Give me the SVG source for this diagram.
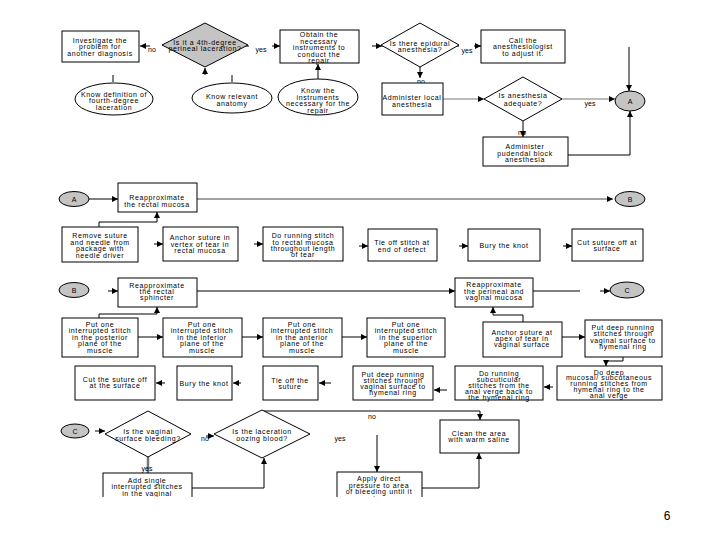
<svg xmlns="http://www.w3.org/2000/svg" width="720" height="540" viewBox="0 0 720 540">
<style>
.b{fill:#fff;stroke:#000;stroke-width:1}
.dg{fill:#c4c4c4;stroke:#000;stroke-width:1}
.dw{fill:#fff;stroke:#000;stroke-width:1}
.e{fill:#fff;stroke:#000;stroke-width:1}
.t{font-family:"Liberation Sans",Arial,sans-serif;font-size:7px;letter-spacing:0.6px;text-anchor:middle;dominant-baseline:central;fill:#000}
.l{font-family:"Liberation Sans",Arial,sans-serif;font-size:7px;text-anchor:middle;dominant-baseline:central;fill:#000}
.ln{stroke:#000;stroke-width:1;fill:none}
.g{stroke:#777;stroke-width:1;fill:none}
.m{marker-end:url(#ah)}
</style>
<defs>
<marker id="ah" markerWidth="6" markerHeight="6" refX="6" refY="3" orient="auto" markerUnits="userSpaceOnUse"><path d="M0,0 L6,3 L0,6 z" fill="#000"/></marker>
<clipPath id="cut"><rect x="0" y="0" width="720" height="497"/></clipPath>
</defs>
<rect width="720" height="540" fill="#fff"/>

<g id="connectors">
<line class="ln" x1="249" y1="46" x2="166" y2="46" stroke-width="1.5" marker-end="url(#ah)"/>
<line class="ln m" x1="150" y1="46" x2="140" y2="46"/>
<line class="ln m" x1="272" y1="46" x2="280" y2="46"/>
<line class="ln" x1="113" y1="75" x2="113" y2="82"/>
<line class="ln" x1="232" y1="75" x2="232" y2="82"/>
<line class="ln m" x1="205" y1="75" x2="205" y2="68"/>
<line class="ln m" x1="318" y1="80" x2="318" y2="64"/>
<line class="ln m" x1="372" y1="46" x2="382" y2="46"/>
<line class="ln" x1="382" y1="46" x2="459" y2="46"/>
<line class="ln m" x1="474" y1="46" x2="481" y2="46"/>
<line class="ln m" x1="420" y1="67" x2="420" y2="78"/>
<line class="ln m" x1="629" y1="47" x2="629" y2="91"/>
<line class="g m" x1="443" y1="99" x2="484" y2="99"/>
<line class="g" x1="484" y1="99" x2="562" y2="99"/>
<line class="g m" x1="562" y1="99" x2="615" y2="99"/>
<line class="ln m" x1="523" y1="121" x2="523" y2="137"/>
<polyline class="ln m" points="568,155 630,155 630,111"/>

<line class="ln m" x1="89" y1="199" x2="118" y2="199"/>
<line x1="197" y1="199" x2="613" y2="199" stroke="#444" stroke-width="1" marker-end="url(#ah)"/>
<polyline class="ln m" points="99,227 99,222 157,222 157,212"/>
<line class="ln m" x1="154" y1="244" x2="163" y2="244"/>
<line class="ln m" x1="254" y1="244" x2="263" y2="244"/>
<line class="ln m" x1="359" y1="246" x2="368" y2="246"/>
<line class="ln m" x1="459" y1="246" x2="468" y2="246"/>
<line class="ln m" x1="563" y1="246" x2="572" y2="246"/>

<line class="ln m" x1="108" y1="291" x2="118" y2="291"/>
<line class="ln m" x1="197" y1="291" x2="455" y2="291"/>
<line class="ln" x1="533" y1="291" x2="580" y2="291"/>
<line class="ln m" x1="600" y1="291" x2="610" y2="291"/>
<polyline class="ln m" points="99,318 99,314 157,314 157,307"/>
<line class="ln m" x1="138" y1="337" x2="163" y2="337"/>
<line class="ln m" x1="242" y1="337" x2="263" y2="337"/>
<line class="ln m" x1="342" y1="337" x2="367" y2="337"/>
<polyline class="ln m" points="523,322 523,315 493,315 493,307"/>
<line class="ln m" x1="562" y1="337" x2="585" y2="337"/>
<polyline class="ln m" points="623,357 623,361 606,361 606,366"/>

<line class="ln m" x1="165" y1="383" x2="156" y2="383"/>
<line class="ln m" x1="241" y1="383" x2="233" y2="383"/>
<line class="ln m" x1="331" y1="383" x2="319" y2="383"/>
<line class="ln m" x1="447" y1="390" x2="434" y2="390"/>
<line class="ln m" x1="553" y1="387" x2="544" y2="387"/>

<line class="ln m" x1="95" y1="431" x2="105" y2="431"/>
<line class="ln m" x1="206" y1="436" x2="214" y2="436"/>
<line x1="148" y1="457" x2="148" y2="473" stroke="#777" stroke-width="2.5"/>
<polyline class="ln m" points="192,488 264,488 264,458"/>
<polyline class="ln m" points="262,411 480,411 480,420"/>
<line class="ln m" x1="377" y1="435" x2="377" y2="472"/>
<polyline class="ln m" points="422,488 479,488 479,453"/>
</g>

<g id="n1"><rect class="b" x="62" y="31" width="77" height="31"/><text class="t" x="100" y="40">Investigate the</text><text class="t" x="100" y="46.5">problem for</text><text class="t" x="100" y="53">another diagnosis</text></g>
<g id="d1"><polygon class="dg" points="205,23 248,45 205,67 162,45"/><text class="t" x="205" y="42">Is it a 4th-degree</text><text class="t" x="205" y="48.5">perineal laceration?</text></g>
<text class="l" x="152" y="49">no</text>
<text class="l" x="261" y="49">yes</text>
<g id="n2"><rect class="b" x="280" y="30" width="79" height="33"/><text class="t" x="319" y="34.5">Obtain the</text><text class="t" x="319" y="41">necessary</text><text class="t" x="319" y="47.5">instruments to</text><text class="t" x="319" y="54">conduct the</text><text class="t" x="319" y="60.5">repair</text></g>
<g id="d2"><polygon class="dw" points="420,23 459,45 420,67 381,45"/><text class="t" x="420" y="43">Is there epidural</text><text class="t" x="420" y="49.5">anesthesia?</text></g>
<text class="l" x="467" y="50">yes</text>
<g id="n3"><rect class="b" x="481" y="30" width="84" height="33"/><text class="t" x="523" y="40">Call the</text><text class="t" x="523" y="46.5">anesthesiologist</text><text class="t" x="523" y="53">to adjust it.</text></g>
<g id="e1"><ellipse class="e" cx="114" cy="99" rx="39" ry="16"/><text class="t" x="114" y="94">Know definition of</text><text class="t" x="114" y="100.5">fourth-degree</text><text class="t" x="114" y="107">laceration</text></g>
<g id="e2"><ellipse class="e" cx="232" cy="98" rx="40" ry="15"/><text class="t" x="232" y="96.5">Know relevant</text><text class="t" x="232" y="103.5">anatomy</text></g>
<g id="e3"><ellipse class="e" cx="318" cy="97" rx="40" ry="18"/><text class="t" x="318" y="90.5">Know the</text><text class="t" x="318" y="97">instruments</text><text class="t" x="318" y="103.5">necessary for the</text><text class="t" x="318" y="110">repair</text></g>
<text class="l" x="421" y="81">no</text>
<g id="n4"><rect class="b" x="382" y="83" width="61" height="32"/><text class="t" x="412" y="97" letter-spacing="0.3">Administer local</text><text class="t" x="412" y="104">anesthesia</text></g>
<g id="d3"><polygon class="dw" points="523,77 562,99 523,121 484,99"/><text class="t" x="523" y="95.5">Is anesthesia</text><text class="t" x="523" y="103">adequate?</text></g>
<text class="l" x="590" y="103">yes</text>
<text class="l" x="522" y="132">no</text>
<g id="n5"><rect class="b" x="483" y="137" width="85" height="29"/><text class="t" x="525" y="146.5">Administer</text><text class="t" x="525" y="153">pudendal block</text><text class="t" x="525" y="159.5">anesthesia</text></g>
<g id="cA1"><ellipse class="dg" cx="630" cy="101" rx="15" ry="10"/><text class="l" x="630" y="101">A</text></g>

<g id="cA2"><ellipse class="dg" cx="74" cy="199" rx="15" ry="7.5"/><text class="l" x="74" y="199">A</text></g>
<g id="n6"><rect class="b" x="118" y="183" width="79" height="29"/><text class="t" x="157" y="197.5">Reapproximate</text><text class="t" x="157" y="204">the rectal mucosa</text></g>
<g id="cB1"><ellipse class="dg" cx="630" cy="199" rx="15" ry="7.5"/><text class="l" x="630" y="199">B</text></g>
<g id="n7"><rect class="b" x="62" y="227" width="76" height="35"/><text class="t" x="100" y="235.5">Remove suture</text><text class="t" x="100" y="242">and needle from</text><text class="t" x="100" y="248.5">package with</text><text class="t" x="100" y="255">needle driver</text></g>
<g id="n8"><rect class="b" x="163" y="227" width="75" height="34"/><text class="t" x="200" y="237.5">Anchor suture in</text><text class="t" x="200" y="244">vertex of tear in</text><text class="t" x="200" y="250.5">rectal mucosa</text></g>
<g id="n9"><rect class="b" x="263" y="227" width="80" height="34"/><text class="t" x="303" y="235.5">Do running stitch</text><text class="t" x="303" y="242">to rectal mucosa</text><text class="t" x="303" y="248">throughout length</text><text class="t" x="303" y="254">of tear</text></g>
<g id="n10"><rect class="b" x="368" y="229" width="69" height="32"/><text class="t" x="402" y="242.5">Tie off stitch at</text><text class="t" x="402" y="249">end of defect</text></g>
<g id="n11"><rect class="b" x="468" y="229" width="72" height="32"/><text class="t" x="504" y="245">Bury the knot</text></g>
<g id="n12"><rect class="b" x="572" y="229" width="71" height="32"/><text class="t" x="607" y="242">Cut suture off at</text><text class="t" x="607" y="248.5">surface</text></g>

<g id="cB2"><ellipse class="dg" cx="74" cy="290" rx="15" ry="7.5"/><text class="l" x="74" y="290">B</text></g>
<g id="n13"><rect class="b" x="118" y="278" width="79" height="29"/><text class="t" x="157" y="285">Reapproximate</text><text class="t" x="157" y="291">the rectal</text><text class="t" x="157" y="297.5">sphincter</text></g>
<g id="n14"><rect class="b" x="455" y="278" width="78" height="29"/><text class="t" x="494" y="284.5">Reapproximate</text><text class="t" x="494" y="291">the perineal and</text><text class="t" x="494" y="297.5">vaginal mucosa</text></g>
<g id="cC1"><ellipse class="dg" cx="627" cy="290" rx="17" ry="8"/><text class="l" x="627" y="290">C</text></g>
<g id="n15"><rect class="b" x="62" y="318" width="76" height="39"/><text class="t" x="100" y="324">Put one</text><text class="t" x="100" y="330.5">interrupted stitch</text><text class="t" x="100" y="337">in the posterior</text><text class="t" x="100" y="343.5">plane of the</text><text class="t" x="100" y="350">muscle</text></g>
<g id="n16"><rect class="b" x="163" y="318" width="79" height="39"/><text class="t" x="202" y="324">Put one</text><text class="t" x="202" y="330.5">interrupted stitch</text><text class="t" x="202" y="337">in the inferior</text><text class="t" x="202" y="343.5">plane of the</text><text class="t" x="202" y="350">muscle</text></g>
<g id="n17"><rect class="b" x="263" y="318" width="79" height="39"/><text class="t" x="302" y="324">Put one</text><text class="t" x="302" y="330.5">interrupted stitch</text><text class="t" x="302" y="337">in the anterior</text><text class="t" x="302" y="343.5">plane of the</text><text class="t" x="302" y="350">muscle</text></g>
<g id="n18"><rect class="b" x="367" y="318" width="78" height="39"/><text class="t" x="406" y="324">Put one</text><text class="t" x="406" y="330.5">interrupted stitch</text><text class="t" x="406" y="337">in the superior</text><text class="t" x="406" y="343.5">plane of the</text><text class="t" x="406" y="350">muscle</text></g>
<g id="n19"><rect class="b" x="483" y="322" width="79" height="35"/><text class="t" x="522" y="332">Anchor suture at</text><text class="t" x="522" y="338">apex of tear in</text><text class="t" x="522" y="344">vaginal surface</text></g>
<g id="n20"><rect class="b" x="585" y="320" width="77" height="37"/><text class="t" x="623" y="327">Put deep running</text><text class="t" x="623" y="333.5">stitches through</text><text class="t" x="623" y="340">vaginal surface to</text><text class="t" x="623" y="346.5">hymenal ring</text></g>

<g id="n21"><rect class="b" x="75" y="366" width="80" height="34"/><text class="t" x="115" y="379">Cut the suture off</text><text class="t" x="115" y="385.5">at the surface</text></g>
<g id="n22"><rect class="b" x="177" y="366" width="55" height="34"/><text class="t" x="204" y="383" letter-spacing="0.2">Bury the knot</text></g>
<g id="n23"><rect class="b" x="263" y="366" width="55" height="34"/><text class="t" x="290" y="380">Tie off the</text><text class="t" x="290" y="386.5">suture</text></g>
<g id="n24"><rect class="b" x="353" y="366" width="80" height="34"/><text class="t" x="393" y="374">Put deep running</text><text class="t" x="393" y="380">stitches through</text><text class="t" x="393" y="386">vaginal surface to</text><text class="t" x="393" y="392">hymenal ring</text></g>
<g id="n25"><rect class="b" x="455" y="366" width="88" height="34"/><text class="t" x="499" y="373">Do running</text><text class="t" x="499" y="379">subcuticular</text><text class="t" x="499" y="385">stitches from the</text><text class="t" x="499" y="391">anal verge back to</text><text class="t" x="499" y="397">the hymenal ring</text></g>
<g id="n26"><rect class="b" x="557" y="366" width="105" height="34"/><text class="t" x="609" y="372">Do deep</text><text class="t" x="609" y="377.5">mucosal/ subcutaneous</text><text class="t" x="609" y="383">running stitches from</text><text class="t" x="609" y="389">hymenal ring to the</text><text class="t" x="609" y="395">anal verge</text></g>

<g id="cC2"><ellipse class="dg" cx="75" cy="431" rx="14" ry="7"/><text class="l" x="75" y="431">C</text></g>
<g id="d4"><polygon class="dw" points="148,411 191,434 148,457 105,434"/><text class="t" x="148" y="431.5">Is the vaginal</text><text class="t" x="148" y="438">surface bleeding?</text></g>
<text class="l" x="205" y="438">no</text>
<g id="d5"><polygon class="dw" points="262,410 310,434 262,458 214,434"/><text class="t" x="262" y="431.5">Is the laceration</text><text class="t" x="262" y="438">oozing blood?</text></g>
<text class="l" x="147" y="468">yes</text>
<text class="l" x="372" y="416">no</text>
<text class="l" x="340" y="438">yes</text>
<g id="n27" clip-path="url(#cut)"><rect class="b" x="103" y="473" width="89" height="34"/><text class="t" x="147" y="480" font-size="8.5">Add single</text><text class="t" x="147" y="486.5">interrupted stitches</text><text class="t" x="147" y="493">in the vaginal</text><text class="t" x="147" y="499.5">mucosa</text></g>
<g id="n28" clip-path="url(#cut)"><rect class="b" x="337" y="472" width="85" height="34"/><text class="t" x="379" y="478.5" font-size="8.5">Apply direct</text><text class="t" x="379" y="485">pressure to area</text><text class="t" x="379" y="491.5">of bleeding until it</text><text class="t" x="379" y="498">stops</text></g>
<g id="n29"><rect class="b" x="440" y="420" width="79" height="33"/><text class="t" x="479" y="433">Clean the area</text><text class="t" x="479" y="439.5">with warm saline</text></g>

<text x="667" y="520" font-family="Liberation Sans, Arial, sans-serif" font-size="12" text-anchor="middle" fill="#000">6</text>
</svg>
